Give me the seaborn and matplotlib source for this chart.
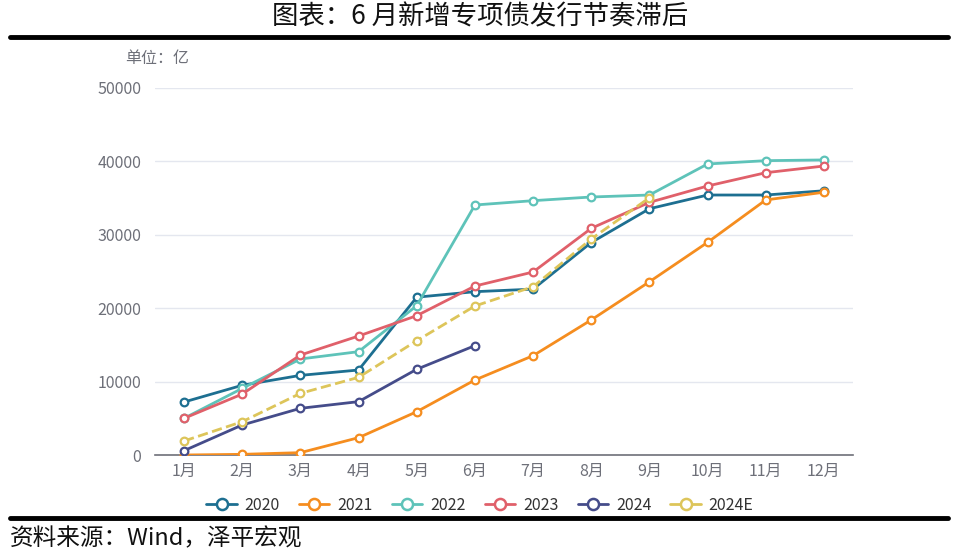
import numpy as np
import pandas as pd
import matplotlib
matplotlib.use('Agg')
import matplotlib.pyplot as plt
from matplotlib.lines import Line2D
import seaborn as sns

# DATA (亿)
months = ['1月', '2月', '3月', '4月', '5月', '6月', '7月', '8月', '9月', '10月', '11月', '12月']
y2020 = [7220, 9500, 10850, 11580, 21500, 22250, 22600, 28950, 33550, 35420, 35420, 36000]
y2021 = [0, 90, 320, 2360, 5900, 10220, 13530, 18400, 23600, 28970, 34750, 35800]
y2022 = [5000, 9080, 13080, 14080, 20340, 34060, 34650, 35150, 35420, 39650, 40100, 40200]
y2023 = [5000, 8300, 13620, 16210, 18980, 23020, 24930, 30880, 34420, 36650, 38460, 39370]
y2024 = [590, 4090, 6360, 7270, 11680, 14900]
y2024e = [1910, 4540, 8400, 10580, 15570, 20300, 22930, 29430, 35050]

series = ['2020', '2021', '2022', '2023', '2024', '2024E']
values = [y2020, y2021, y2022, y2023, y2024, y2024e]
colors = {'2020': '#1d6f91', '2021': '#f58d1f', '2022': '#5ec3b9',
          '2023': '#e0606a', '2024': '#454c8a', '2024E': '#ddc55a'}

rows = []
for name, vals in zip(series, values):
    for i, v in enumerate(vals):
        rows.append({'series': name, 'idx': i, 'value': v})
df = pd.DataFrame(rows)

sns.set_style('white')
plt.rcParams['font.family'] = ['Noto Sans CJK SC', 'DejaVu Sans']

fig = plt.figure(figsize=(9.6, 5.53), dpi=100)
ax = fig.add_axes([155 / 960, 1 - 455 / 553, 698 / 960, 367 / 553])

for name in series:
    sub = df[df['series'] == name]
    sns.lineplot(data=sub, x='idx', y='value', ax=ax, color=colors[name],
                 linewidth=2, marker='o', markersize=5.5, markerfacecolor='white',
                 markeredgecolor=colors[name], markeredgewidth=1.6,
                 linestyle='--' if name == '2024E' else '-',
                 dashes=(4, 2.5) if name == '2024E' else None,
                 legend=False, zorder=3)

ax.set_xlim(-0.5, 11.5)
ax.set_ylim(0, 50000)
ax.set_yticks(range(0, 50001, 10000))
ax.set_yticklabels([str(v) for v in range(0, 50001, 10000)], color='#6e7079', fontsize=11.5)
ax.set_xticks(range(12))
ax.set_xticklabels(months, color='#6e7079', fontsize=11.5)
ax.set_xticks(np.arange(-0.5, 12, 1), minor=True)
ax.tick_params(axis='x', which='major', length=0, pad=6)
ax.tick_params(axis='x', which='minor', length=5, color='#6e7079', width=1)
ax.tick_params(axis='y', length=0, pad=10)
ax.set_xlabel('')
ax.set_ylabel('')
ax.grid(axis='y', color='#e4e7ef', linewidth=1)
ax.set_axisbelow(True)
for s in ['top', 'right', 'left']:
    ax.spines[s].set_visible(False)
ax.spines['bottom'].set_color('#6e7079')
ax.spines['bottom'].set_linewidth(1.2)

# unit label
fig.text(125 / 960, 1 - 58 / 553, '单位：亿', color='#6e7079', fontsize=11.5, va='center')

# legend
handles = [Line2D([0], [0], color=colors[n], lw=2, marker='o', markersize=8,
                  markerfacecolor='white', markeredgecolor=colors[n], markeredgewidth=1.8)
           for n in series]
fig.legend(handles, series, loc='center', bbox_to_anchor=(0.5, 1 - 505 / 553), ncol=6,
           frameon=False, fontsize=11.5, handlelength=1.9, columnspacing=1.2,
           handletextpad=0.5, labelcolor='#333333')

# title and frame lines
fig.text(0.5, 1 - 17 / 553, '图表：6 月新增专项债发行节奏滞后', ha='center', va='center',
         fontsize=19, color='#111111')
fig.add_artist(Line2D([10 / 960, 948 / 960], [1 - 37 / 553, 1 - 37 / 553],
                      color='black', lw=3.5, transform=fig.transFigure))
fig.add_artist(Line2D([10 / 960, 948 / 960], [1 - 518 / 553, 1 - 518 / 553],
                      color='black', lw=3.5, transform=fig.transFigure))
fig.text(10 / 960, 1 - 539 / 553, '资料来源：Wind，泽平宏观', ha='left', va='center',
         fontsize=17, style='italic', color='#111111')

fig.savefig('out.png', dpi=100)
